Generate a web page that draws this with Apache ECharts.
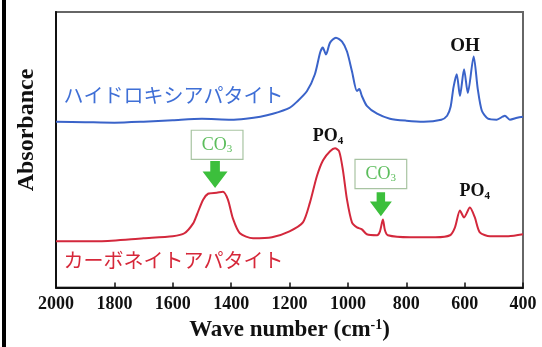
<!DOCTYPE html>
<html>
<head>
<meta charset="utf-8">
<script src="https://cdn.jsdelivr.net/npm/echarts@6/dist/echarts.min.js"></script>
<style>
html,body{margin:0;padding:0;background:#fff;}
#c{width:542px;height:347px;}
</style>
</head>
<body>
<div id="c"></div>
<script>
// X axis ticks (wavenumber, cm-1)
const xTicks = [2000, 1800, 1600, 1400, 1200, 1000, 800, 600, 400];

// Hydroxyapatite spectrum (blue)
const hapWave = [2000,1900,1800,1700,1600,1500,1400,1350,1300,1257,1200,1175,1140,1113,1095,1086,1075,1061,1041,1020,1003,986,969,961,952,935,900,856,800,740,680,660,648,638,627,616,602,589,569,555,541,520,490,470,462,445,420,400];
const hapAbs  = [1.68,1.675,1.67,1.68,1.695,1.71,1.70,1.71,1.73,1.76,1.82,1.88,1.99,2.16,2.38,2.43,2.36,2.48,2.53,2.49,2.39,2.19,1.99,2.01,1.94,1.84,1.76,1.71,1.69,1.68,1.70,1.74,1.83,2.03,2.16,1.94,2.21,1.97,2.34,2.01,1.79,1.71,1.70,1.73,1.74,1.70,1.72,1.73];

// Carbonate apatite spectrum (red)
const capWave = [2000,1850,1700,1600,1560,1530,1517,1496,1479,1449,1428,1411,1394,1370,1325,1260,1200,1154,1130,1106,1085,1061,1044,1030,1017,1003,986,969,952,935,900,890,880,873,863,787,700,650,633,616,602,582,565,548,513,450,400];
const capAbs  = [0.47,0.47,0.50,0.52,0.55,0.65,0.74,0.89,0.95,0.96,0.97,0.89,0.70,0.55,0.50,0.51,0.57,0.66,0.86,1.13,1.29,1.38,1.41,1.38,1.19,0.89,0.66,0.61,0.59,0.54,0.53,0.57,0.69,0.58,0.53,0.51,0.51,0.53,0.61,0.78,0.71,0.81,0.71,0.56,0.52,0.52,0.54];

// Annotation anchors [wavenumber, absorbance]
const hapNameAt = [1976, 1.95];
const capNameAt = [1976, 0.28];
const ohAt = [599, 2.44];
const po4MainAt = [1068, 1.53];
const po4LowAt = [565, 0.97];
const co3BoxA = [1448, 1.445];
const co3ArrowA = [1455, 1.145];
const co3BoxB = [887, 1.15];
const co3ArrowB = [887, 0.845];

const hapName = 'ハイドロキシアパタイト';
const capName = 'カーボネイトアパタイト';
const yTitle = 'Absorbance';

const serif = '"Liberation Serif","Times New Roman",serif';
const jp = '"Noto Sans CJK JP","Noto Sans CJK SC",sans-serif';

const toPairs = (w, a) => w.map((x, i) => [x, a[i]]);

const arrowPath = 'path://M8,0 L18,0 L18,11 L26,11 L13,28 L0,11 L8,11 Z';

function textPoint(coord, text, rich, extra) {
  return Object.assign({
    coord: coord,
    symbol: 'circle',
    symbolSize: 1,
    itemStyle: {color: 'rgba(0,0,0,0)'},
    label: {show: true, position: 'inside', formatter: text, rich: rich}
  }, extra || {});
}

const chemRich = (size, color, weight) => ({
  n: {fontFamily: serif, fontSize: size, fontWeight: weight, color: color, lineHeight: size + 2, verticalAlign: 'middle'},
  s: {fontFamily: serif, fontSize: Math.round(size * 0.6), fontWeight: weight, color: color, lineHeight: Math.round(size * 0.6), verticalAlign: 'bottom'}
});

const co3Label = (coord) => ({
  coord: coord,
  symbol: 'circle',
  symbolSize: 1,
  itemStyle: {color: 'rgba(0,0,0,0)'},
  label: {
    show: true, position: 'inside', formatter: '{n|CO}{s|3}',
    backgroundColor: '#fff', borderColor: '#a8c4a2', borderWidth: 1.2,
    padding: [4, 10, 4, 10],
    rich: chemRich(18, '#5bbd5b', 'normal')
  }
});

const chart = echarts.init(document.getElementById('c'), null, {renderer: 'canvas'});
chart.setOption({
  animation: false,
  backgroundColor: '#fff',
  grid: {left: 56, right: 19, top: 12, bottom: 56, show: true, borderColor: '#666', borderWidth: 2, backgroundColor: 'transparent'},
  xAxis: {
    type: 'value', inverse: true, min: 400, max: 2000, interval: 200,
    axisLine: {show: true, lineStyle: {color: '#111', width: 2}},
    axisTick: {show: true, inside: true, length: 5, lineStyle: {color: '#111', width: 1.5}},
    splitLine: {show: false},
    axisLabel: {
      margin: 8, color: '#111', fontFamily: serif, fontWeight: 'bold', fontSize: 18,
      formatter: v => xTicks.includes(v) ? String(v) : ''
    },
    name: '{a|Wave number (cm}{s|-1}{a|)}',
    nameLocation: 'middle', nameGap: 30,
    nameTextStyle: {
      rich: {
        a: {fontFamily: serif, fontWeight: 'bold', fontSize: 23, color: '#111', lineHeight: 24, verticalAlign: 'middle'},
        s: {fontFamily: serif, fontWeight: 'bold', fontSize: 14, color: '#111', lineHeight: 14, verticalAlign: 'top'}
      }
    }
  },
  yAxis: {
    type: 'value', min: 0, max: 2.79,
    axisLine: {show: true, lineStyle: {color: '#111', width: 2}},
    axisTick: {show: false}, axisLabel: {show: false}, splitLine: {show: false}
  },
  graphic: [
    {type: 'rect', left: 2, top: 0, shape: {width: 4, height: 347}, style: {fill: '#000'}},
    {type: 'text', x: 27, y: 130, rotation: Math.PI / 2,
     style: {text: yTitle, align: 'center', verticalAlign: 'middle', fill: '#111',
             font: 'bold 24px "Liberation Serif","Times New Roman",serif'}}
  ],
  series: [
    {
      name: hapName, type: 'line', data: toPairs(hapWave, hapAbs),
      showSymbol: false, smooth: 0.25,
      lineStyle: {color: '#3a63c9', width: 2}, itemStyle: {color: '#3a63c9'},
      markPoint: {
        silent: true, animation: false,
        data: [
          textPoint(hapNameAt, hapName, null, {label: {show: true, position: 'right', distance: 0, formatter: hapName, fontFamily: jp, fontSize: 20, color: '#3f6fd6'}}),
          textPoint(ohAt, 'OH', null, {label: {show: true, position: 'inside', formatter: 'OH', fontFamily: serif, fontWeight: 'bold', fontSize: 19, color: '#111'}})
        ]
      }
    },
    {
      name: capName, type: 'line', data: toPairs(capWave, capAbs),
      showSymbol: false, smooth: 0.25,
      lineStyle: {color: '#d3283c', width: 2}, itemStyle: {color: '#d3283c'},
      markPoint: {
        silent: true, animation: false,
        data: [
          textPoint(capNameAt, capName, null, {label: {show: true, position: 'right', distance: 0, formatter: capName, fontFamily: jp, fontSize: 20, color: '#d6283a'}}),
          textPoint(po4MainAt, '{n|PO}{s|4}', chemRich(18, '#111', 'bold')),
          textPoint(po4LowAt, '{n|PO}{s|4}', chemRich(18, '#111', 'bold')),
          co3Label(co3BoxA),
          co3Label(co3BoxB),
          {coord: co3ArrowA, symbol: arrowPath, symbolSize: [25, 27], symbolKeepAspect: false, itemStyle: {color: '#3cbf3c'}, label: {show: false}},
          {coord: co3ArrowB, symbol: arrowPath, symbolSize: [22, 24], symbolKeepAspect: false, itemStyle: {color: '#3cbf3c'}, label: {show: false}}
        ]
      }
    }
  ]
});
</script>
</body>
</html>
